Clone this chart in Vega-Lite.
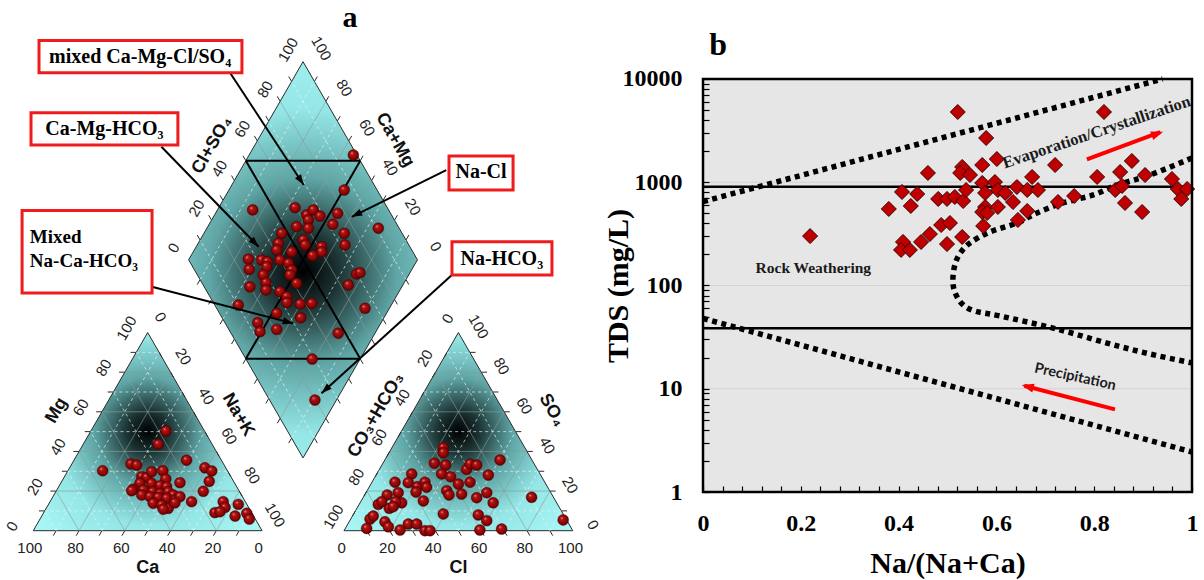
{
"$schema": "https://vega.github.io/schema/vega-lite/v6.json",
"padding": 0,
"background": "white",
"bounds": "flush",
"spacing": 103,
"config": {"view": {"stroke": null}, "font": "Liberation Sans"},
"datasets": {
"tris": [
{"x":0,"y":0,"y2":0,"id":"L"},{"x":50,"y":86.6,"y2":0,"id":"L"},{"x":100,"y":0,"y2":0,"id":"L"},
{"x":135.8,"y":0,"y2":0,"id":"R"},{"x":185.8,"y":86.6,"y2":0,"id":"R"},{"x":235.8,"y":0,"y2":0,"id":"R"}
],
"diam": [
{"x":67.9,"y":118.4,"y2":118.4},{"x":117.9,"y":205.0,"y2":31.8},{"x":167.9,"y":118.4,"y2":118.4}
],
"grid": [
{"x":5,"y":8.66,"x2":95,"y2":8.66,"kind":"minor"},
{"x":10,"y":17.32,"x2":90,"y2":17.32,"kind":"major"},
{"x":15,"y":25.98,"x2":85,"y2":25.98,"kind":"minor"},
{"x":20,"y":34.64,"x2":80,"y2":34.64,"kind":"major"},
{"x":25,"y":43.3,"x2":75,"y2":43.3,"kind":"minor"},
{"x":30,"y":51.96,"x2":70,"y2":51.96,"kind":"major"},
{"x":35,"y":60.62,"x2":65,"y2":60.62,"kind":"minor"},
{"x":40,"y":69.28,"x2":60,"y2":69.28,"kind":"major"},
{"x":45,"y":77.94,"x2":55,"y2":77.94,"kind":"minor"},
{"x":10,"y":0,"x2":55,"y2":77.94,"kind":"minor"},
{"x":20,"y":0,"x2":60,"y2":69.28,"kind":"major"},
{"x":30,"y":0,"x2":65,"y2":60.62,"kind":"minor"},
{"x":40,"y":0,"x2":70,"y2":51.96,"kind":"major"},
{"x":50,"y":0,"x2":75,"y2":43.3,"kind":"minor"},
{"x":60,"y":0,"x2":80,"y2":34.64,"kind":"major"},
{"x":70,"y":0,"x2":85,"y2":25.98,"kind":"minor"},
{"x":80,"y":0,"x2":90,"y2":17.32,"kind":"major"},
{"x":90,"y":0,"x2":95,"y2":8.66,"kind":"minor"},
{"x":10,"y":0,"x2":5,"y2":8.66,"kind":"minor"},
{"x":20,"y":0,"x2":10,"y2":17.32,"kind":"major"},
{"x":30,"y":0,"x2":15,"y2":25.98,"kind":"minor"},
{"x":40,"y":0,"x2":20,"y2":34.64,"kind":"major"},
{"x":50,"y":0,"x2":25,"y2":43.3,"kind":"minor"},
{"x":60,"y":0,"x2":30,"y2":51.96,"kind":"major"},
{"x":70,"y":0,"x2":35,"y2":60.62,"kind":"minor"},
{"x":80,"y":0,"x2":40,"y2":69.28,"kind":"major"},
{"x":90,"y":0,"x2":45,"y2":77.94,"kind":"minor"},
{"x":140.8,"y":8.66,"x2":230.8,"y2":8.66,"kind":"minor"},
{"x":145.8,"y":17.32,"x2":225.8,"y2":17.32,"kind":"major"},
{"x":150.8,"y":25.98,"x2":220.8,"y2":25.98,"kind":"minor"},
{"x":155.8,"y":34.64,"x2":215.8,"y2":34.64,"kind":"major"},
{"x":160.8,"y":43.3,"x2":210.8,"y2":43.3,"kind":"minor"},
{"x":165.8,"y":51.96,"x2":205.8,"y2":51.96,"kind":"major"},
{"x":170.8,"y":60.62,"x2":200.8,"y2":60.62,"kind":"minor"},
{"x":175.8,"y":69.28,"x2":195.8,"y2":69.28,"kind":"major"},
{"x":180.8,"y":77.94,"x2":190.8,"y2":77.94,"kind":"minor"},
{"x":145.8,"y":0,"x2":190.8,"y2":77.94,"kind":"minor"},
{"x":155.8,"y":0,"x2":195.8,"y2":69.28,"kind":"major"},
{"x":165.8,"y":0,"x2":200.8,"y2":60.62,"kind":"minor"},
{"x":175.8,"y":0,"x2":205.8,"y2":51.96,"kind":"major"},
{"x":185.8,"y":0,"x2":210.8,"y2":43.3,"kind":"minor"},
{"x":195.8,"y":0,"x2":215.8,"y2":34.64,"kind":"major"},
{"x":205.8,"y":0,"x2":220.8,"y2":25.98,"kind":"minor"},
{"x":215.8,"y":0,"x2":225.8,"y2":17.32,"kind":"major"},
{"x":225.8,"y":0,"x2":230.8,"y2":8.66,"kind":"minor"},
{"x":145.8,"y":0,"x2":140.8,"y2":8.66,"kind":"minor"},
{"x":155.8,"y":0,"x2":145.8,"y2":17.32,"kind":"major"},
{"x":165.8,"y":0,"x2":150.8,"y2":25.98,"kind":"minor"},
{"x":175.8,"y":0,"x2":155.8,"y2":34.64,"kind":"major"},
{"x":185.8,"y":0,"x2":160.8,"y2":43.3,"kind":"minor"},
{"x":195.8,"y":0,"x2":165.8,"y2":51.96,"kind":"major"},
{"x":205.8,"y":0,"x2":170.8,"y2":60.62,"kind":"minor"},
{"x":215.8,"y":0,"x2":175.8,"y2":69.28,"kind":"major"},
{"x":225.8,"y":0,"x2":180.8,"y2":77.94,"kind":"minor"},
{"x":112.9,"y":40.46,"x2":162.9,"y2":127.06,"kind":"minor"},
{"x":107.9,"y":49.12,"x2":157.9,"y2":135.72,"kind":"major"},
{"x":102.9,"y":57.78,"x2":152.9,"y2":144.38,"kind":"minor"},
{"x":97.9,"y":66.44,"x2":147.9,"y2":153.04,"kind":"major"},
{"x":92.9,"y":75.1,"x2":142.9,"y2":161.7,"kind":"minor"},
{"x":87.9,"y":83.76,"x2":137.9,"y2":170.36,"kind":"major"},
{"x":82.9,"y":92.42,"x2":132.9,"y2":179.02,"kind":"minor"},
{"x":77.9,"y":101.08,"x2":127.9,"y2":187.68,"kind":"major"},
{"x":72.9,"y":109.74,"x2":122.9,"y2":196.34,"kind":"minor"},
{"x":122.9,"y":40.46,"x2":72.9,"y2":127.06,"kind":"minor"},
{"x":127.9,"y":49.12,"x2":77.9,"y2":135.72,"kind":"major"},
{"x":132.9,"y":57.78,"x2":82.9,"y2":144.38,"kind":"minor"},
{"x":137.9,"y":66.44,"x2":87.9,"y2":153.04,"kind":"major"},
{"x":142.9,"y":75.1,"x2":92.9,"y2":161.7,"kind":"minor"},
{"x":147.9,"y":83.76,"x2":97.9,"y2":170.36,"kind":"major"},
{"x":152.9,"y":92.42,"x2":102.9,"y2":179.02,"kind":"minor"},
{"x":157.9,"y":101.08,"x2":107.9,"y2":187.68,"kind":"major"},
{"x":162.9,"y":109.74,"x2":112.9,"y2":196.34,"kind":"minor"}
],
"bold": [
{"x":92.9,"y":161.7,"x2":142.9,"y2":161.7},
{"x":92.9,"y":75.1,"x2":142.9,"y2":75.1},
{"x":92.9,"y":161.7,"x2":142.9,"y2":75.1},
{"x":142.9,"y":161.7,"x2":92.9,"y2":75.1}
],
"ticks": [
{"x":10,"y":0,"x2":8.75,"y2":-2.17},{"x":20,"y":0,"x2":18.75,"y2":-2.17},{"x":30,"y":0,"x2":28.75,"y2":-2.17},{"x":40,"y":0,"x2":38.75,"y2":-2.17},{"x":50,"y":0,"x2":48.75,"y2":-2.17},{"x":60,"y":0,"x2":58.75,"y2":-2.17},{"x":70,"y":0,"x2":68.75,"y2":-2.17},{"x":80,"y":0,"x2":78.75,"y2":-2.17},{"x":90,"y":0,"x2":88.75,"y2":-2.17},
{"x":5,"y":8.66,"x2":2.5,"y2":8.66},{"x":10,"y":17.32,"x2":7.5,"y2":17.32},{"x":15,"y":25.98,"x2":12.5,"y2":25.98},{"x":20,"y":34.64,"x2":17.5,"y2":34.64},{"x":25,"y":43.3,"x2":22.5,"y2":43.3},{"x":30,"y":51.96,"x2":27.5,"y2":51.96},{"x":35,"y":60.62,"x2":32.5,"y2":60.62},{"x":40,"y":69.28,"x2":37.5,"y2":69.28},{"x":45,"y":77.94,"x2":42.5,"y2":77.94},
{"x":95,"y":8.66,"x2":96.25,"y2":6.49},{"x":90,"y":17.32,"x2":91.25,"y2":15.15},{"x":85,"y":25.98,"x2":86.25,"y2":23.81},{"x":80,"y":34.64,"x2":81.25,"y2":32.47},{"x":75,"y":43.3,"x2":76.25,"y2":41.13},{"x":70,"y":51.96,"x2":71.25,"y2":49.79},{"x":65,"y":60.62,"x2":66.25,"y2":58.45},{"x":60,"y":69.28,"x2":61.25,"y2":67.11},{"x":55,"y":77.94,"x2":56.25,"y2":75.77},
{"x":145.8,"y":0,"x2":147.05,"y2":-2.17},{"x":155.8,"y":0,"x2":157.05,"y2":-2.17},{"x":165.8,"y":0,"x2":167.05,"y2":-2.17},{"x":175.8,"y":0,"x2":177.05,"y2":-2.17},{"x":185.8,"y":0,"x2":187.05,"y2":-2.17},{"x":195.8,"y":0,"x2":197.05,"y2":-2.17},{"x":205.8,"y":0,"x2":207.05,"y2":-2.17},{"x":215.8,"y":0,"x2":217.05,"y2":-2.17},{"x":225.8,"y":0,"x2":227.05,"y2":-2.17},
{"x":230.8,"y":8.66,"x2":233.3,"y2":8.66},{"x":225.8,"y":17.32,"x2":228.3,"y2":17.32},{"x":220.8,"y":25.98,"x2":223.3,"y2":25.98},{"x":215.8,"y":34.64,"x2":218.3,"y2":34.64},{"x":210.8,"y":43.3,"x2":213.3,"y2":43.3},{"x":205.8,"y":51.96,"x2":208.3,"y2":51.96},{"x":200.8,"y":60.62,"x2":203.3,"y2":60.62},{"x":195.8,"y":69.28,"x2":198.3,"y2":69.28},{"x":190.8,"y":77.94,"x2":193.3,"y2":77.94},
{"x":140.8,"y":8.66,"x2":139.55,"y2":6.49},{"x":145.8,"y":17.32,"x2":144.55,"y2":15.15},{"x":150.8,"y":25.98,"x2":149.55,"y2":23.81},{"x":155.8,"y":34.64,"x2":154.55,"y2":32.47},{"x":160.8,"y":43.3,"x2":159.55,"y2":41.13},{"x":165.8,"y":51.96,"x2":164.55,"y2":49.79},{"x":170.8,"y":60.62,"x2":169.55,"y2":58.45},{"x":175.8,"y":69.28,"x2":174.55,"y2":67.11},{"x":180.8,"y":77.94,"x2":179.55,"y2":75.77},
{"x":72.9,"y":127.06,"x2":71.65,"y2":129.23},{"x":77.9,"y":135.72,"x2":76.65,"y2":137.89},{"x":82.9,"y":144.38,"x2":81.65,"y2":146.55},{"x":87.9,"y":153.04,"x2":86.65,"y2":155.21},{"x":92.9,"y":161.7,"x2":91.65,"y2":163.87},{"x":97.9,"y":170.36,"x2":96.65,"y2":172.53},{"x":102.9,"y":179.02,"x2":101.65,"y2":181.19},{"x":107.9,"y":187.68,"x2":106.65,"y2":189.85},{"x":112.9,"y":196.34,"x2":111.65,"y2":198.51},
{"x":162.9,"y":127.06,"x2":164.15,"y2":129.23},{"x":157.9,"y":135.72,"x2":159.15,"y2":137.89},{"x":152.9,"y":144.38,"x2":154.15,"y2":146.55},{"x":147.9,"y":153.04,"x2":149.15,"y2":155.21},{"x":142.9,"y":161.7,"x2":144.15,"y2":163.87},{"x":137.9,"y":170.36,"x2":139.15,"y2":172.53},{"x":132.9,"y":179.02,"x2":134.15,"y2":181.19},{"x":127.9,"y":187.68,"x2":129.15,"y2":189.85},{"x":122.9,"y":196.34,"x2":124.15,"y2":198.51},
{"x":112.9,"y":40.46,"x2":111.65,"y2":38.29},{"x":107.9,"y":49.12,"x2":106.65,"y2":46.95},{"x":102.9,"y":57.78,"x2":101.65,"y2":55.61},{"x":97.9,"y":66.44,"x2":96.65,"y2":64.27},{"x":92.9,"y":75.1,"x2":91.65,"y2":72.93},{"x":87.9,"y":83.76,"x2":86.65,"y2":81.59},{"x":82.9,"y":92.42,"x2":81.65,"y2":90.25},{"x":77.9,"y":101.08,"x2":76.65,"y2":98.91},{"x":72.9,"y":109.74,"x2":71.65,"y2":107.57},
{"x":122.9,"y":40.46,"x2":124.15,"y2":38.29},{"x":127.9,"y":49.12,"x2":129.15,"y2":46.95},{"x":132.9,"y":57.78,"x2":134.15,"y2":55.61},{"x":137.9,"y":66.44,"x2":139.15,"y2":64.27},{"x":142.9,"y":75.1,"x2":144.15,"y2":72.93},{"x":147.9,"y":83.76,"x2":149.15,"y2":81.59},{"x":152.9,"y":92.42,"x2":154.15,"y2":90.25},{"x":157.9,"y":101.08,"x2":159.15,"y2":98.91},{"x":162.9,"y":109.74,"x2":164.15,"y2":107.57}
],
"lab0": [
{"x":-1.5,"y":-7.7,"t":"100"},{"x":18.5,"y":-7.7,"t":"80"},{"x":38.5,"y":-7.7,"t":"60"},{"x":58.5,"y":-7.7,"t":"40"},{"x":78.5,"y":-7.7,"t":"20"},{"x":98.5,"y":-7.7,"t":"0"},
{"x":134.8,"y":-7.7,"t":"0"},{"x":154.8,"y":-7.7,"t":"20"},{"x":174.8,"y":-7.7,"t":"40"},{"x":194.8,"y":-7.7,"t":"60"},{"x":214.8,"y":-7.7,"t":"80"},{"x":234.8,"y":-7.7,"t":"100"}
],
"labL": [
{"x":-9.2,"y":1.9,"t":"0"},{"x":0.8,"y":19.22,"t":"20"},{"x":10.8,"y":36.54,"t":"40"},{"x":20.8,"y":53.86,"t":"60"},{"x":30.8,"y":71.18,"t":"80"},{"x":40.8,"y":88.5,"t":"100"},
{"x":181.2,"y":92.7,"t":"0"},{"x":171.2,"y":75.38,"t":"20"},{"x":161.2,"y":58.06,"t":"40"},{"x":151.2,"y":40.74,"t":"60"},{"x":141.2,"y":23.42,"t":"80"},{"x":131.2,"y":6.1,"t":"100"},
{"x":61.4,"y":123.6,"t":"0"},{"x":71.4,"y":140.92,"t":"20"},{"x":81.4,"y":158.24,"t":"40"},{"x":91.4,"y":175.56,"t":"60"},{"x":101.4,"y":192.88,"t":"80"},{"x":111.4,"y":210.2,"t":"100"}
],
"labR": [
{"x":55.6,"y":93.4,"t":"0"},{"x":65.6,"y":76.08,"t":"20"},{"x":75.6,"y":58.76,"t":"40"},{"x":85.6,"y":41.44,"t":"60"},{"x":95.6,"y":24.12,"t":"80"},{"x":105.6,"y":6.8,"t":"100"},
{"x":244.6,"y":2.6,"t":"0"},{"x":234.6,"y":19.92,"t":"20"},{"x":224.6,"y":37.24,"t":"40"},{"x":214.6,"y":54.56,"t":"60"},{"x":204.6,"y":71.88,"t":"80"},{"x":194.6,"y":89.2,"t":"100"},
{"x":175.9,"y":124.2,"t":"0"},{"x":165.9,"y":141.52,"t":"20"},{"x":155.9,"y":158.84,"t":"40"},{"x":145.9,"y":176.16,"t":"60"},{"x":135.9,"y":193.48,"t":"80"},{"x":125.9,"y":210.8,"t":"100"}
],
"nm0": [{"x":50,"y":-16.5,"t":"Ca"},{"x":185.8,"y":-16.5,"t":"Cl"}],
"nmL": [{"x":10.2,"y":52.5,"t":"Mg"},{"x":149.8,"y":50.5,"t":"CO₃+HCO₃"},{"x":78.2,"y":168.5,"t":"Cl+SO₄"}],
"nmR": [{"x":89.6,"y":50.6,"t":"Na+K"},{"x":226.7,"y":52.6,"t":"SO₄"},{"x":158.1,"y":170.8,"t":"Ca+Mg"}],
"pts": [
{"x":58.0,"y":43.6},{"x":54.6,"y":37.8},{"x":30.3,"y":26.2},{"x":42.7,"y":29.2},{"x":45.2,"y":28.7},{"x":67.0,"y":30.8},{"x":75.0,"y":27.5},{"x":78.0,"y":26.1},{"x":76.9,"y":21.6},{"x":74.3,"y":17.2},{"x":64.1,"y":21.0},{"x":47.4,"y":23.6},{"x":49.6,"y":23.3},{"x":51.7,"y":25.8},{"x":56.6,"y":26.2},{"x":57.9,"y":22.6},{"x":46.6,"y":20.7},{"x":51.7,"y":20.7},{"x":55.4,"y":19.7},{"x":58.3,"y":19.2},{"x":43.7,"y":18.1},{"x":48.1,"y":17.8},{"x":52.2,"y":17.0},{"x":55.4,"y":16.3},{"x":59.0,"y":17.0},{"x":61.2,"y":15.6},{"x":47.4,"y":15.6},{"x":51.0,"y":14.9},{"x":54.6,"y":14.6},{"x":58.3,"y":14.2},{"x":61.9,"y":13.4},{"x":64.1,"y":14.9},{"x":52.4,"y":12.0},{"x":56.1,"y":11.2},{"x":59.0,"y":9.8},{"x":56.8,"y":9.4},{"x":61.9,"y":12.2},{"x":69.2,"y":12.7},{"x":83.0,"y":12.7},{"x":83.8,"y":10.2},{"x":79.4,"y":7.9},{"x":81.6,"y":8.3},{"x":89.6,"y":11.5},{"x":88.2,"y":6.4},{"x":93.3,"y":7.6},{"x":94.4,"y":5.1},{"x":43.0,"y":17.5},
{"x":179.2,"y":36.3},{"x":179.2,"y":34.1},{"x":175.3,"y":29.5},{"x":180.2,"y":28.7},{"x":178.5,"y":24.8},{"x":182.4,"y":23.6},{"x":185.8,"y":20.4},{"x":189.4,"y":26.8},{"x":190.9,"y":29.2},{"x":193.8,"y":28.7},{"x":198.9,"y":24.3},{"x":204.0,"y":30.9},{"x":190.9,"y":21.2},{"x":187.2,"y":16.0},{"x":180.7,"y":17.5},{"x":181.7,"y":15.6},{"x":193.8,"y":14.4},{"x":198.2,"y":16.6},{"x":201.0,"y":12.2},{"x":217.8,"y":14.6},{"x":231.6,"y":4.7},{"x":204.7,"y":0.7},{"x":195.2,"y":0.3},{"x":194.5,"y":6.9},{"x":198.2,"y":4.4},{"x":179.2,"y":7.3},{"x":165.4,"y":24.8},{"x":163.9,"y":21.0},{"x":158.1,"y":21.2},{"x":167.8,"y":19.2},{"x":171.2,"y":21.2},{"x":171.9,"y":19.0},{"x":167.3,"y":16.9},{"x":170.5,"y":13.0},{"x":159.5,"y":16.6},{"x":154.7,"y":15.6},{"x":161.0,"y":12.2},{"x":158.4,"y":12.7},{"x":155.6,"y":9.8},{"x":150.8,"y":11.5},{"x":147.2,"y":5.1},{"x":145.7,"y":1.0},{"x":153.7,"y":3.9},{"x":155.2,"y":1.7},{"x":160.3,"y":0.3},{"x":163.9,"y":2.9},{"x":167.6,"y":2.9},{"x":171.2,"y":0.0},{"x":173.4,"y":0.0},{"x":152.3,"y":12.7},{"x":157.3,"y":10.5},{"x":148.6,"y":6.4},
{"x":139.9,"y":164.2},{"x":135.9,"y":148.9},{"x":95.9,"y":140.2},{"x":114.4,"y":141.2},{"x":119.5,"y":138.0},{"x":122.4,"y":140.2},{"x":125.3,"y":137.5},{"x":120.2,"y":135.8},{"x":115.1,"y":132.9},{"x":120.2,"y":132.2},{"x":133.0,"y":138.7},{"x":130.9,"y":133.9},{"x":150.8,"y":132.2},{"x":135.9,"y":130.0},{"x":136.2,"y":124.9},{"x":108.6,"y":130.0},{"x":107.1,"y":125.6},{"x":106.4,"y":122.7},{"x":112.9,"y":121.9},{"x":118.0,"y":127.1},{"x":118.8,"y":124.9},{"x":126.0,"y":124.1},{"x":126.0,"y":121.9},{"x":122.1,"y":120.2},{"x":94.0,"y":118.7},{"x":94.4,"y":114.2},{"x":99.8,"y":118.3},{"x":102.3,"y":117.6},{"x":102.0,"y":115.4},{"x":107.8,"y":118.3},{"x":111.5,"y":116.9},{"x":112.9,"y":113.9},{"x":112.2,"y":111.8},{"x":100.5,"y":111.8},{"x":101.7,"y":108.4},{"x":101.7,"y":105.2},{"x":94.7,"y":106.6},{"x":107.8,"y":104.5},{"x":110.8,"y":102.3},{"x":110.8,"y":99.7},{"x":115.1,"y":108.1},{"x":116.6,"y":99.1},{"x":121.7,"y":99.4},{"x":89.6,"y":98.6},{"x":106.4,"y":95.0},{"x":116.9,"y":93.1},{"x":98.1,"y":90.9},{"x":99.1,"y":87.0},{"x":106.4,"y":88.0},{"x":133.3,"y":86.3},{"x":141.3,"y":112.2},{"x":142.8,"y":112.8},{"x":137.7,"y":107.4},{"x":145.0,"y":97.2},{"x":121.9,"y":75.0},{"x":123.1,"y":57.1}
],
"boxes": [
{"x":2.5,"x2":91.2,"y":214.2,"y2":200.2},
{"x":-1.0,"x2":63.2,"y":182.7,"y2":168.6},
{"x":181.7,"x2":209.7,"y":163.8,"y2":148.9},
{"x":-4.9,"x2":51.9,"y":139.9,"y2":103.9},
{"x":183.0,"x2":226.7,"y":126.3,"y2":111.8}
],
"boxtext": [
{"x":46.7,"y":207.0,"t":"mixed Ca-Mg-Cl/SO₄"},
{"x":31.1,"y":175.6,"t":"Ca-Mg-HCO₃"},
{"x":195.7,"y":156.6,"t":"Na-Cl"},
{"x":204.8,"y":118.9,"t":"Na-HCO₃"}
],
"boxtextL": [
{"x":-1.5,"y":128.3,"t":"Mixed"},
{"x":-1.5,"y":117.9,"t":"Na-Ca-HCO₃"}
],
"arrA": [
{"x":85.7,"y":200.6,"x2":118.2,"y2":151.1},
{"x":56.0,"y":167.8,"x2":98.5,"y2":124.1},
{"x":180.5,"y":157.6,"x2":139.2,"y2":137.2},
{"x":51.8,"y":106.6,"x2":113.6,"y2":90.6},
{"x":183.8,"y":112.5,"x2":126.0,"y2":60.1}
],
"headA": [
{"x":118.2,"y":151.1,"ang":146.7},
{"x":98.5,"y":124.1,"ang":135.8},
{"x":139.2,"y":137.2,"ang":243.7},
{"x":113.6,"y":90.6,"ang":104.5},
{"x":126.0,"y":60.1,"ang":227.8}
],
"dia": [
{"x":0.219,"y":301},{"x":0.460,"y":1230},{"x":0.407,"y":805},{"x":0.438,"y":770},{"x":0.380,"y":551},{"x":0.425,"y":589},{"x":0.481,"y":689},{"x":0.499,"y":689},{"x":0.515,"y":720},{"x":0.532,"y":658},{"x":0.538,"y":841},{"x":0.487,"y":385},{"x":0.505,"y":403},{"x":0.464,"y":315},{"x":0.446,"y":264},{"x":0.409,"y":264},{"x":0.405,"y":221},{"x":0.423,"y":221},{"x":0.499,"y":252},{"x":0.530,"y":295},{"x":0.521,"y":4790},{"x":0.579,"y":2683},{"x":0.820,"y":4790},{"x":0.530,"y":1406},{"x":0.526,"y":1230},{"x":0.546,"y":1175},{"x":0.571,"y":1469},{"x":0.601,"y":1679},{"x":0.720,"y":1469},{"x":0.571,"y":984},{"x":0.577,"y":787},{"x":0.597,"y":1005},{"x":0.603,"y":841},{"x":0.618,"y":787},{"x":0.642,"y":899},{"x":0.663,"y":841},{"x":0.673,"y":1125},{"x":0.685,"y":841},{"x":0.634,"y":644},{"x":0.577,"y":576},{"x":0.603,"y":576},{"x":0.571,"y":515},{"x":0.581,"y":504},{"x":0.663,"y":527},{"x":0.644,"y":431},{"x":0.573,"y":377},{"x":0.726,"y":644},{"x":0.759,"y":736},{"x":0.806,"y":1125},{"x":0.853,"y":1257},{"x":0.877,"y":1607},{"x":0.904,"y":1175},{"x":0.843,"y":841},{"x":0.857,"y":920},{"x":0.863,"y":630},{"x":0.898,"y":515},{"x":0.959,"y":1075},{"x":0.971,"y":860},{"x":0.990,"y":860},{"x":0.978,"y":689}
],
"curves": [
{"x":0,"y":650,"c":"u","o":0},{"x":0.94,"y":10000,"c":"u","o":1},
{"x":0,"y":48,"c":"l","o":0},{"x":1,"y":2.44,"c":"l","o":1},
{"x":1.0,"y":1718,"c":"i","o":0},{"x":0.914,"y":1175,"c":"i","o":1},{"x":0.847,"y":940,"c":"i","o":2},{"x":0.798,"y":753,"c":"i","o":3},{"x":0.736,"y":630,"c":"i","o":4},{"x":0.683,"y":504,"c":"i","o":5},{"x":0.642,"y":403,"c":"i","o":6},{"x":0.587,"y":330,"c":"i","o":7},{"x":0.546,"y":258,"c":"i","o":8},{"x":0.526,"y":206,"c":"i","o":9},{"x":0.515,"y":158,"c":"i","o":10},{"x":0.511,"y":113,"c":"i","o":11},{"x":0.515,"y":86.5,"c":"i","o":12},{"x":0.530,"y":66.2,"c":"i","o":13},{"x":0.556,"y":56.6,"c":"i","o":14},{"x":0.607,"y":50.7,"c":"i","o":15},{"x":0.716,"y":38.7,"c":"i","o":16},{"x":0.826,"y":27.7,"c":"i","o":17},{"x":0.914,"y":21.7,"c":"i","o":18},{"x":1.0,"y":17.8,"c":"i","o":19}
],
"redArr": [
{"x":0.785,"y":1668,"x2":0.935,"y2":3050},
{"x":0.8425,"y":6.32,"x2":0.657,"y2":10.7}
],
"redHead": [
{"x":0.941,"y":3090,"ang":70.2},
{"x":0.6517,"y":10.87,"ang":284.6}
],
"frame": [{"x":0,"x2":1,"y":1,"y2":10000}],
"faint": [{"x":0,"x2":1,"y":10},{"x":0,"x2":1,"y":100},{"x":0,"x2":1,"y":1000}],
"solid": [{"x":0,"x2":1,"y":905},{"x":0,"x2":1,"y":38.5}]
},
"hconcat": [
{
"width": 600, "height": 580,
"view": {"stroke": null},
"encoding": {
"x": {"field":"x","type":"quantitative","scale":{"domain":[-14.55,247.7],"nice":false,"zero":false},"axis":null},
"y": {"field":"y","type":"quantitative","scale":{"domain":[-21.55,231.95],"nice":false,"zero":false},"axis":null}
},
"layer": [
{"data":{"name":"tris"},"mark":{"type":"area","stroke":"#2a2a2a","strokeWidth":1,"fill":{"gradient":"radial","x1":0.5,"y1":0.5,"r1":0,"x2":0.5,"y2":0.5,"r2":0.62,"stops":[{"offset":0,"color":"#000000"},{"offset":0.15,"color":"#1d3434"},{"offset":0.38,"color":"#5fa5a5"},{"offset":0.66,"color":"#95e6e6"},{"offset":1,"color":"#a8f5f5"}]}},
 "encoding":{"y2":{"field":"y2"},"detail":{"field":"id"}}},
{"data":{"name":"diam"},"mark":{"type":"area","stroke":"#2a2a2a","strokeWidth":1,"fill":{"gradient":"radial","x1":0.5,"y1":0.53,"r1":0,"x2":0.5,"y2":0.53,"r2":0.62,"stops":[{"offset":0,"color":"#000000"},{"offset":0.15,"color":"#1d3434"},{"offset":0.38,"color":"#5fa5a5"},{"offset":0.66,"color":"#95e6e6"},{"offset":1,"color":"#a8f5f5"}]}},
 "encoding":{"y2":{"field":"y2"}}},
{"data":{"name":"grid"},"mark":{"type":"rule","strokeWidth":0.8,"opacity":0.85},
 "encoding":{"x2":{"field":"x2"},"y2":{"field":"y2"},
  "color":{"field":"kind","type":"nominal","scale":{"domain":["major","minor"],"range":["#8a9c9c","#e4f8f8"]},"legend":null},
  "strokeDash":{"field":"kind","type":"nominal","scale":{"domain":["major","minor"],"range":[[1,0],[3,3]]},"legend":null}}},
{"data":{"name":"bold"},"mark":{"type":"rule","color":"#000000","strokeWidth":2},
 "encoding":{"x2":{"field":"x2"},"y2":{"field":"y2"}}},
{"data":{"name":"ticks"},"mark":{"type":"rule","color":"#2a2a2a","strokeWidth":1},
 "encoding":{"x2":{"field":"x2"},"y2":{"field":"y2"}}},
{"data":{"name":"lab0"},"mark":{"type":"text","font":"Liberation Sans","fontSize":15,"color":"#222222","align":"center","baseline":"middle"},
 "encoding":{"text":{"field":"t"}}},
{"data":{"name":"labL"},"mark":{"type":"text","font":"Liberation Sans","fontSize":15,"color":"#222222","align":"center","baseline":"middle","angle":300},
 "encoding":{"text":{"field":"t"}}},
{"data":{"name":"labR"},"mark":{"type":"text","font":"Liberation Sans","fontSize":15,"color":"#222222","align":"center","baseline":"middle","angle":60},
 "encoding":{"text":{"field":"t"}}},
{"data":{"name":"nm0"},"mark":{"type":"text","font":"Liberation Sans","fontWeight":"bold","fontSize":18,"color":"#111111","align":"center","baseline":"middle"},
 "encoding":{"text":{"field":"t"}}},
{"data":{"name":"nmL"},"mark":{"type":"text","font":"Liberation Sans","fontWeight":"bold","fontSize":18,"color":"#111111","align":"center","baseline":"middle","angle":300},
 "encoding":{"text":{"field":"t"}}},
{"data":{"name":"nmR"},"mark":{"type":"text","font":"Liberation Sans","fontWeight":"bold","fontSize":18,"color":"#111111","align":"center","baseline":"middle","angle":60},
 "encoding":{"text":{"field":"t"}}},
{"data":{"name":"pts"},"mark":{"type":"point","shape":"circle","filled":true,"size":120,"opacity":1,"stroke":"#3a0000","strokeWidth":0.4,
  "fill":{"gradient":"radial","x1":0.35,"y1":0.3,"r1":0,"x2":0.5,"y2":0.5,"r2":0.55,"stops":[{"offset":0,"color":"#f2b0b0"},{"offset":0.25,"color":"#b31414"},{"offset":0.7,"color":"#8a0505"},{"offset":1,"color":"#4a0000"}]}}},
{"data":{"name":"arrA"},"mark":{"type":"rule","color":"#000000","strokeWidth":2},
 "encoding":{"x2":{"field":"x2"},"y2":{"field":"y2"}}},
{"data":{"name":"headA"},"mark":{"type":"point","shape":"M0,0L-0.55,1.6L0.55,1.6Z","filled":true,"color":"#000000","opacity":1,"size":170},
 "encoding":{"angle":{"field":"ang","type":"quantitative","scale":null}}},
{"data":{"name":"boxes"},"mark":{"type":"rect","fill":"#ffffff","stroke":"#ee1c1c","strokeWidth":3},
 "encoding":{"x2":{"field":"x2"},"y2":{"field":"y2"}}},
{"data":{"name":"boxtext"},"mark":{"type":"text","font":"Liberation Serif","fontWeight":"bold","fontSize":20,"color":"#000000","align":"center","baseline":"middle"},
 "encoding":{"text":{"field":"t"}}},
{"data":{"name":"boxtextL"},"mark":{"type":"text","font":"Liberation Serif","fontWeight":"bold","fontSize":19,"color":"#000000","align":"left","baseline":"middle"},
 "encoding":{"text":{"field":"t"}}},
{"data":{"values":[{"x":138.4,"y":224.1,"t":"a"}]},"mark":{"type":"text","font":"Liberation Serif","fontWeight":"bold","fontSize":30,"color":"#000000","align":"center","baseline":"middle"},
 "encoding":{"text":{"field":"t"}}}
]
},
{
"width": 489, "height": 492,
"view": {"stroke": null},
"encoding": {
"x": {"field":"x","type":"quantitative","scale":{"domain":[0,1],"nice":false,"zero":false},
 "axis":{"zindex":1,"domain":false,"values":[0,0.04,0.08,0.12,0.16,0.2,0.24,0.28,0.32,0.36,0.4,0.44,0.48,0.52,0.56,0.6,0.64,0.68,0.72,0.76,0.8,0.84,0.88,0.92,0.96,1],
  "labelExpr":"round(datum.value*100) % 20 == 0 ? format(datum.value, '~g') : ''",
  "labelOverlap":false,"labelFlush":false,"labelBound":false,
  "tickSize":-6,"tickColor":"#000000","tickWidth":1.2,"labelPadding":25,
  "labelFont":"Liberation Serif","labelFontWeight":"bold","labelFontSize":24,"labelColor":"#000000",
  "grid":false,"title":"Na/(Na+Ca)","titleFont":"Liberation Serif","titleFontWeight":"bold","titleFontSize":30,"titleColor":"#000000",
  "titleX":244.5,"titleY":71,"titleBaseline":"middle","titleAlign":"center"}},
"y": {"field":"y","type":"quantitative","scale":{"type":"log","domain":[1,58210],"nice":false},
 "axis":{"zindex":1,"domain":false,"values":[1,2,3,4,5,6,7,8,9,10,20,30,40,50,60,70,80,90,100,200,300,400,500,600,700,800,900,1000,2000,3000,4000,5000,6000,7000,8000,9000,10000],
  "labelExpr":"indexof([1,10,100,1000,10000], datum.value) >= 0 ? format(datum.value, 'd') : ''",
  "labelOverlap":false,"labelBound":false,"labelFlush":false,
  "tickSize":-6,"tickColor":"#000000","tickWidth":1.2,"labelPadding":27,
  "labelFont":"Liberation Serif","labelFontWeight":"bold","labelFontSize":24,"labelColor":"#000000",
  "grid":false,"title":"TDS (mg/L)","titleFont":"Liberation Serif","titleFontWeight":"bold","titleFontSize":30,"titleColor":"#000000",
  "titleX":-85,"titleY":285.5,"titleBaseline":"middle","titleAlign":"center","titleAngle":270}}
},
"layer": [
{"data":{"name":"frame"},"mark":{"type":"rect","fill":"#e6e6e6","strokeWidth":0},
 "encoding":{"x2":{"field":"x2"},"y2":{"field":"y2"}}},
{"data":{"name":"faint"},"mark":{"type":"rule","color":"#d3d3d3","strokeWidth":1},
 "encoding":{"x2":{"field":"x2"}}},
{"data":{"name":"solid"},"mark":{"type":"rule","color":"#000000","strokeWidth":2.5},
 "encoding":{"x2":{"field":"x2"}}},
{"data":{"name":"curves"},"mark":{"type":"line","color":"#000000","strokeWidth":5.5,"strokeDash":[5,4.5],"strokeCap":"butt","interpolate":"cardinal"},
 "encoding":{"detail":{"field":"c"},"order":{"field":"o","type":"quantitative"}}},
{"data":{"name":"dia"},"mark":{"type":"point","shape":"diamond","filled":true,"size":225,"opacity":1,"fill":"#c00000","stroke":"#3a0000","strokeWidth":1}},
{"data":{"name":"redArr"},"mark":{"type":"rule","color":"#ff0000","strokeWidth":4},
 "encoding":{"x2":{"field":"x2"},"y2":{"field":"y2"}}},
{"data":{"name":"redHead"},"mark":{"type":"point","shape":"M0,0L-0.6,1.6L0.6,1.6Z","filled":true,"color":"#ff0000","opacity":1,"size":230},
 "encoding":{"angle":{"field":"ang","type":"quantitative","scale":null}}},
{"data":{"values":[{"x":0.2256,"y":147,"t":"Rock Weathering"}]},"mark":{"type":"text","font":"Liberation Serif","fontWeight":"bold","fontSize":15.5,"color":"#1a1a1a","align":"center","baseline":"middle"},
 "encoding":{"text":{"field":"t"}}},
{"data":{"values":[{"x":0.805,"y":3048,"t":"Evaporation/Crystallization"}]},"mark":{"type":"text","font":"Liberation Serif","fontWeight":"bold","fontSize":16.5,"color":"#1a1a1a","align":"center","baseline":"middle","angle":341.4},
 "encoding":{"text":{"field":"t"}}},
{"data":{"values":[{"x":0.761,"y":12.9,"t":"Precipitation"}]},"mark":{"type":"text","font":"Lato","fontWeight":"bold","fontSize":14.5,"color":"#1a1a1a","align":"center","baseline":"middle","angle":12.4},
 "encoding":{"text":{"field":"t"}}},
{"data":{"values":[{"x":0.031,"y":21340,"t":"b"}]},"mark":{"type":"text","font":"Liberation Serif","fontWeight":"bold","fontSize":32,"color":"#000000","align":"center","baseline":"middle"},
 "encoding":{"text":{"field":"t"}}},
{"data":{"name":"frame"},"mark":{"type":"rect","fill":null,"stroke":"#000000","strokeWidth":2.5},
 "encoding":{"x2":{"field":"x2"},"y2":{"field":"y2"}}}
]
}
]
}
